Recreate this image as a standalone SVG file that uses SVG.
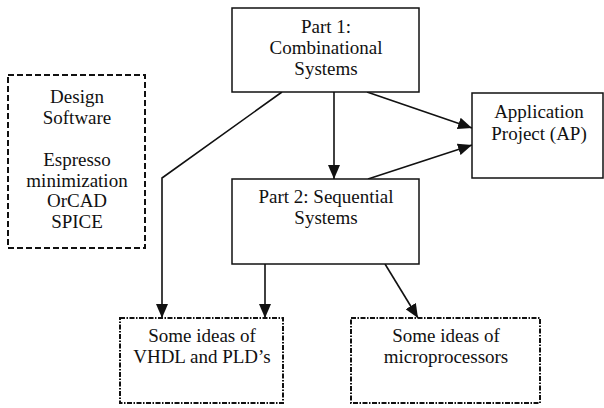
<svg xmlns="http://www.w3.org/2000/svg" width="604" height="408" viewBox="0 0 604 408">
  <style>
    text { font-family: "Liberation Serif", "Times New Roman", serif; font-size: 19px; fill: #111; text-anchor: middle; }
    .box { fill: #fff; stroke: #111; stroke-width: 1.5; }
    .dash { fill: #fff; stroke: #111; stroke-width: 2; stroke-dasharray: 6 3; }
    .dot { fill: #fff; stroke: #111; stroke-width: 2; stroke-dasharray: 5 1.5 1.5 1.5; }
    .edge { fill: none; stroke: #111; stroke-width: 1.6; }
  </style>
  <defs>
    <!-- filled triangular arrowhead shared by all connectors -->
    <marker id="arrow" viewBox="0 0 14 12" refX="14" refY="6" markerWidth="14" markerHeight="12" markerUnits="userSpaceOnUse" orient="auto">
      <path d="M0,0 L14,6 L0,12 Z" fill="#111"/>
    </marker>
  </defs>
  <rect width="604" height="408" fill="#fff"/>

  <g id="connectors">
    <line class="edge" x1="334" y1="92" x2="334" y2="179" marker-end="url(#arrow)"/>
    <line class="edge" x1="367" y1="92" x2="472" y2="128" marker-end="url(#arrow)"/>
    <line class="edge" x1="368" y1="179" x2="472" y2="145" marker-end="url(#arrow)"/>
    <polyline class="edge" points="282,92 162,178 162,318" marker-end="url(#arrow)"/>
    <line class="edge" x1="265" y1="264" x2="265" y2="318" marker-end="url(#arrow)"/>
    <line class="edge" x1="385" y1="264" x2="418" y2="318" marker-end="url(#arrow)"/>
  </g>

  <g id="part1">
    <rect class="box" x="232" y="8" width="187" height="84"/>
    <text x="326" y="33">Part 1:</text>
    <text x="326" y="54">Combinational</text>
    <text x="326" y="75">Systems</text>
  </g>

  <g id="design-software">
    <rect class="dash" x="8" y="75" width="137" height="173"/>
    <text x="77" y="103">Design</text>
    <text x="77" y="124">Software</text>
    <text x="77" y="166">Espresso</text>
    <text x="77" y="187">minimization</text>
    <text x="77" y="207">OrCAD</text>
    <text x="77" y="228">SPICE</text>
  </g>

  <g id="application">
    <rect class="box" x="472" y="93" width="131" height="85"/>
    <text x="539" y="118">Application</text>
    <text x="539" y="140">Project (AP)</text>
  </g>

  <g id="part2">
    <rect class="box" x="232" y="179" width="187" height="85"/>
    <text x="326" y="203">Part 2: Sequential</text>
    <text x="326" y="224">Systems</text>
  </g>

  <g id="vhdl">
    <rect class="dot" x="120" y="318" width="163" height="85"/>
    <text x="202" y="342">Some ideas of</text>
    <text x="202" y="363">VHDL and PLD’s</text>
  </g>

  <g id="microprocessors">
    <rect class="dot" x="351" y="318" width="189" height="85"/>
    <text x="446" y="342">Some ideas of</text>
    <text x="446" y="363">microprocessors</text>
  </g>
</svg>
